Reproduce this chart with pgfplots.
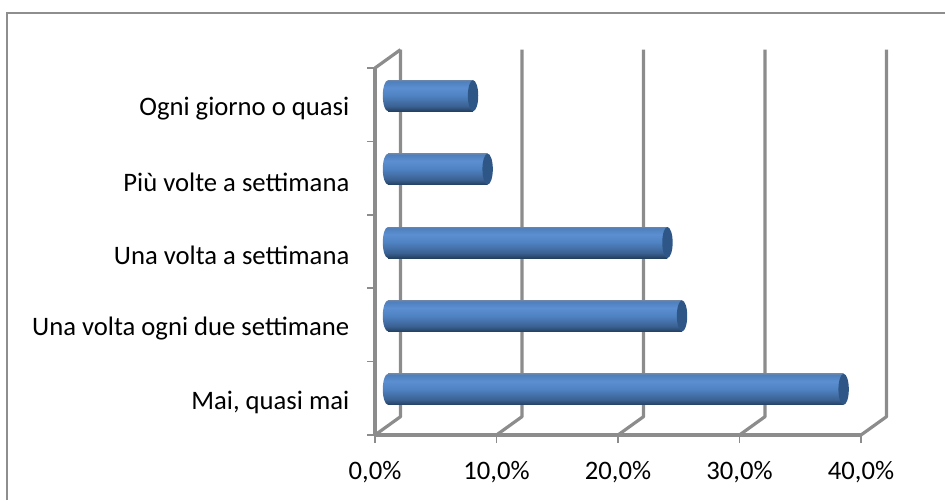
\documentclass[border=0pt]{standalone}
\usepackage{fontspec}
\setmainfont{Carlito}
\usepackage{pgfplots}
\pgfplotsset{compat=1.18}
\definecolor{gridg}{HTML}{8C8C8C}
\definecolor{framg}{HTML}{8E8E8E}
\definecolor{capc}{rgb}{0.18,0.34,0.53}
\pgfdeclareverticalshading{cyl}{100bp}{
 rgb(0bp)=(0.14,0.25,0.38);
 rgb(25bp)=(0.14,0.25,0.38);
 rgb(33bp)=(0.23,0.38,0.57);
 rgb(50bp)=(0.31,0.51,0.76);
 rgb(63bp)=(0.36,0.56,0.82);
 rgb(73bp)=(0.31,0.50,0.74);
 rgb(75bp)=(0.40,0.52,0.68);
 rgb(100bp)=(0.40,0.52,0.68)}
\pgfdeclareplotmark{capL}{\path[draw=none,shading=cyl] (0,0) ellipse (3.9pt and 11.625pt);}
\pgfdeclareplotmark{capR}{\path[draw=none,fill=capc] (0,0) ellipse (3.9pt and 11.625pt);}
\begin{document}
\begin{tikzpicture}[x=1pt,y=1pt]
\useasboundingbox (0,0) rectangle (708.75pt,375pt);
\draw[framg,line width=1.5pt] (5.2pt,0pt) -- (5.2pt,365.5pt) -- (708.75pt,365.5pt);
\begin{axis}[
  at={(281.25pt,48.75pt)},anchor=south west,
  scale only axis,width=364.5pt,height=275.25pt,
  xmin=0,xmax=40,ymin=0,ymax=5,clip=false,
  axis x line=bottom,axis y line=left,
  axis line style={-,gridg,line width=2.4pt},
  xtick={0,10,20,30,40},
  xticklabels={{0,0\%},{10,0\%},{20,0\%},{30,0\%},{40,0\%}},
  ytick={0,1,2,3,4,5},
  yticklabels={},
  extra y ticks={0.5,1.5,2.5,3.5,4.5},
  extra y tick labels={{Mai, quasi mai},{Una volta ogni due settimane},{Una volta a settimana},{Più volte a settimana},{Ogni giorno o quasi}},
  extra y tick style={tick style={draw=none}},
  y tick label style={anchor=east,font=\fontsize{20pt}{24pt}\selectfont,xshift=-9.75pt,yshift=-3pt},
  x tick label style={font=\fontsize{20pt}{24pt}\selectfont,yshift=-10pt},
  tick style={gridg,line width=1.1pt},
  tick align=outside,
  major tick length=6pt,
]
\pgfplotsinvokeforeach{0,10,20,30,40}{
  \addplot[gridg,line width=2.4pt,line join=round,forget plot] coordinates {(#1,0) (#1+2.1,0.25) (#1+2.1,5.25)};
}
\addplot[gridg,line width=2.4pt,forget plot] coordinates {(0,5) (2.1,5.25)};
\end{axis}
\begin{axis}[
  at={(291pt,55.5pt)},anchor=south west,
  scale only axis,width=364.5pt,height=275.25pt,
  xmin=0,xmax=40,ymin=0,ymax=5,clip=false,hide axis,clip mode=individual,
  capl/.style={only marks,mark=capL,mark options={draw=none},forget plot},
  capr/.style={only marks,mark=capR,mark options={draw=none},forget plot},
  cylbar/.style={xbar,bar width=23.25pt,draw=none,shading=cyl,forget plot},
]
\addplot[capl] coordinates {(0,0.5)};
\addplot[cylbar] coordinates {(37.5,0.5)};
\addplot[capr] coordinates {(37.5,0.5)};
\addplot[capl] coordinates {(0,1.5)};
\addplot[cylbar] coordinates {(24.2,1.5)};
\addplot[capr] coordinates {(24.2,1.5)};
\addplot[capl] coordinates {(0,2.5)};
\addplot[cylbar] coordinates {(23.0,2.5)};
\addplot[capr] coordinates {(23.0,2.5)};
\addplot[capl] coordinates {(0,3.5)};
\addplot[cylbar] coordinates {(8.2,3.5)};
\addplot[capr] coordinates {(8.2,3.5)};
\addplot[capl] coordinates {(0,4.5)};
\addplot[cylbar] coordinates {(7.0,4.5)};
\addplot[capr] coordinates {(7.0,4.5)};
\end{axis}
\end{tikzpicture}
\end{document}
